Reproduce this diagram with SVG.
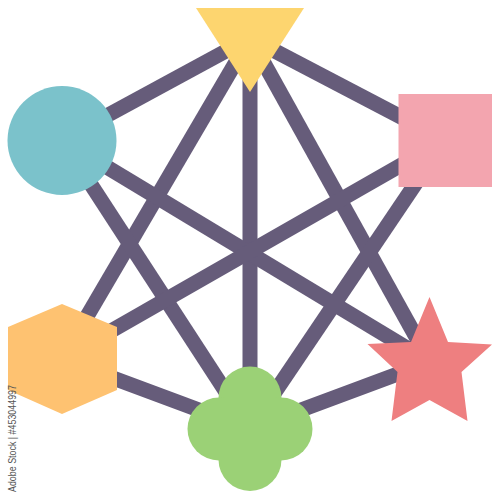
<svg xmlns="http://www.w3.org/2000/svg" width="500" height="500" viewBox="0 0 500 500">
<style>
.edge{stroke:#665C7A;stroke-width:15;fill:none}
.wm{font-family:"Liberation Sans",Arial,sans-serif;font-size:10.5px;fill:#555}
</style>
<rect width="500" height="500" fill="#fff"/>
<g id="connectors">
<line class="edge" x1="250" y1="38" x2="62" y2="140"/>
<line class="edge" x1="250" y1="38" x2="445" y2="140"/>
<line class="edge" x1="250" y1="38" x2="62" y2="359"/>
<line class="edge" x1="250" y1="38" x2="250" y2="429"/>
<line class="edge" x1="250" y1="38" x2="430" y2="362"/>
<line class="edge" x1="62" y1="140" x2="430" y2="362"/>
<line class="edge" x1="62" y1="140" x2="250" y2="429"/>
<line class="edge" x1="445" y1="140" x2="62" y2="359"/>
<line class="edge" x1="445" y1="140" x2="250" y2="429"/>
<line class="edge" x1="62" y1="359" x2="250" y2="429"/>
<line class="edge" x1="250" y1="429" x2="430" y2="362"/>
</g>
<g id="triangle"><polygon points="196,8 304,8 250,92" fill="#FDD56F"/></g>
<g id="circle"><circle cx="62" cy="140.5" r="54.5" fill="#7BC2CB"/></g>
<g id="square"><rect x="398.5" y="94" width="93.5" height="93" fill="#F3A5AF"/></g>
<g id="hexagon"><polygon points="62,304 117,327 117,390 62,414 8,390 8,327" fill="#FEC271"/></g>
<g id="clover" fill="#9BD176">
<circle cx="250" cy="398" r="31.5"/>
<circle cx="250" cy="459.5" r="31.5"/>
<circle cx="219" cy="429" r="31.5"/>
<circle cx="281" cy="429" r="31.5"/>
<rect x="219" y="398" width="62" height="62"/>
</g>
<g id="star"><polygon points="429.5,297 448,342 492,344.5 461.5,372 467.5,421 429.5,400 391.5,421 397.5,372 367.5,344 411,342" fill="#EE7F80"/></g>
<text class="wm" transform="translate(15.5,492) rotate(-90)" textLength="107" lengthAdjust="spacingAndGlyphs">Adobe Stock | #453044997</text>
</svg>
